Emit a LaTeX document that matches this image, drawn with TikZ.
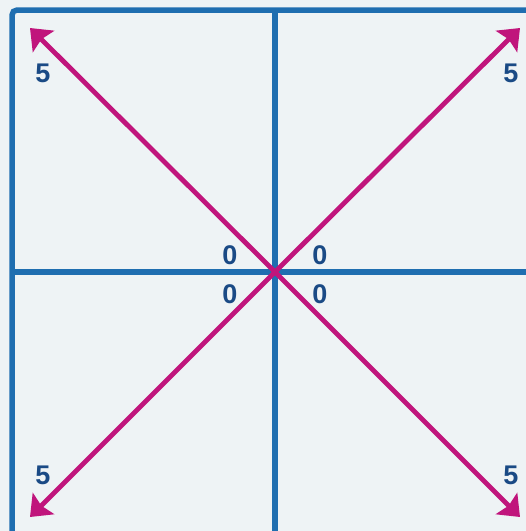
\documentclass[tikz,border=0pt]{standalone}
\usepackage{fontspec}
\setmainfont{Liberation Sans}
\usepackage{tikz}
\usetikzlibrary{arrows.meta}
\definecolor{panelbg}{HTML}{EEF3F5}
\definecolor{gridblue}{HTML}{1F6EB0}
\definecolor{raypink}{HTML}{C0157C}
\definecolor{numblue}{HTML}{1A4A85}

\begin{document}
\begin{tikzpicture}[x=1pt, y=-1pt,
  axis/.style={draw=gridblue, line width=5.5pt},
  vec/.style={draw=raypink, line width=4.8pt, -{Stealth[length=19pt, width=30pt, inset=3pt]}},
  num/.style={text=numblue, font=\fontsize{27}{27}\selectfont\bfseries, inner sep=0pt}]

\useasboundingbox (0,0) rectangle (526,531);
\fill[panelbg] (0,0) rectangle (526,531);
\clip (0,0) rectangle (526,531);

% Cornice e assi
\draw[axis, rounded corners=5pt] (12,545) -- (12,10) -- (540,10);
\draw[axis] (275,10) -- (275,545);
\draw[axis] (12,272) -- (540,272);

% Origine e punte
\coordinate (orig) at (275,272);
\coordinate (tl) at (30,28);
\coordinate (tr) at (520,28);
\coordinate (bl) at (30,517);
\coordinate (br) at (520,517);

% Vettori
\draw[vec] (orig) -- (tl);
\draw[vec] (orig) -- (tr);
\draw[vec] (orig) -- (bl);
\draw[vec] (orig) -- (br);

% Etichette
\node[num] (ntl) at (43,73)  {5};
\node[num] (ntr) at (511,73) {5};
\node[num] (nbl) at (43,475) {5};
\node[num] (nbr) at (511,475) {5};
\node[num] (otl) at (230,255) {0};
\node[num] (otr) at (320,255) {0};
\node[num] (obl) at (230,294) {0};
\node[num] (obr) at (320,294) {0};

\end{tikzpicture}
\end{document}
